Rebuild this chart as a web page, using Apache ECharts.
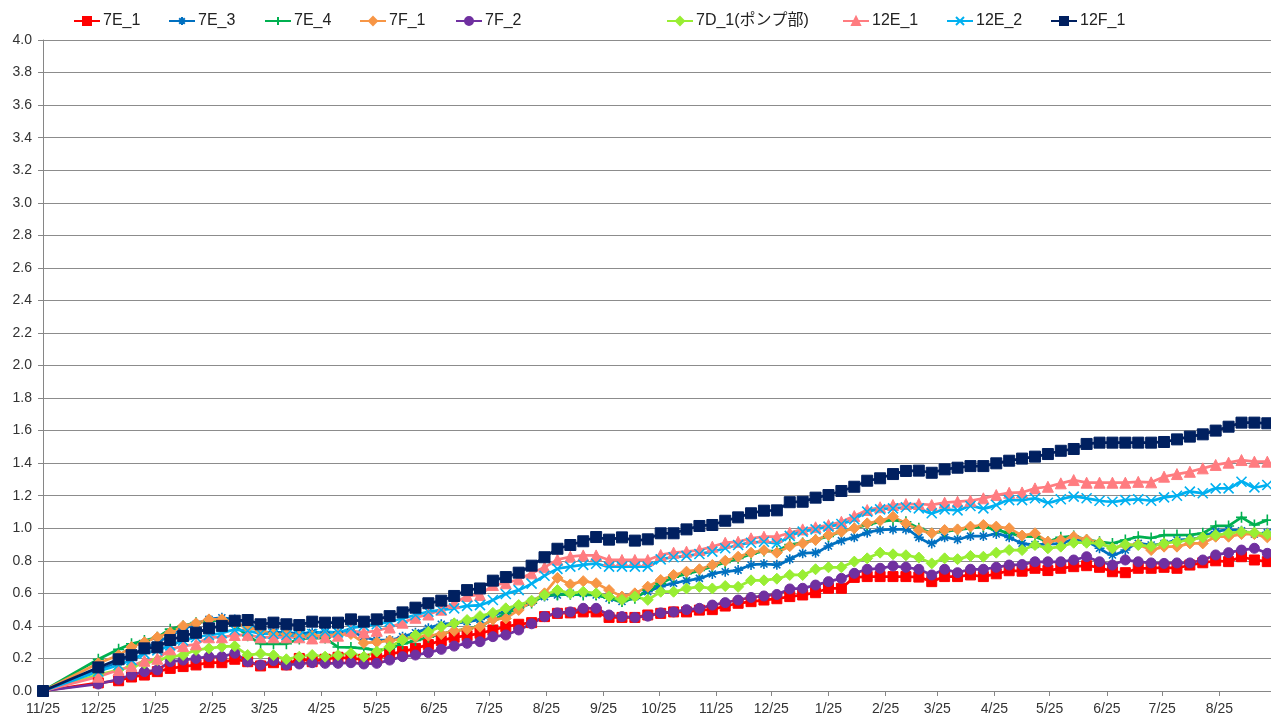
<!DOCTYPE html>
<html>
<head>
<meta charset="utf-8">
<title>chart</title>
<script src="https://cdn.jsdelivr.net/npm/echarts@6/dist/echarts.min.js"></script>
<style>
html,body{margin:0;padding:0;background:#fff;}
#main{width:1271px;height:720px;}
</style>
</head>
<body>
<div id="main"></div>
<script>
// 測定日 (11/25, 12/25, その後は毎週)
var firstDates = ['2012-11-25', '2012-12-25'];
var weeklyStart = '2013-01-05';
var weeklyCount = 90;

// x軸の目盛 (毎月25日)
var tickDates = ['2012-11-25','2012-12-25','2013-01-25','2013-02-25','2013-03-25','2013-04-25',
	'2013-05-25','2013-06-25','2013-07-25','2013-08-25','2013-09-25','2013-10-25','2013-11-25',
	'2013-12-25','2014-01-25','2014-02-25','2014-03-25','2014-04-25','2014-05-25','2014-06-25',
	'2014-07-25','2014-08-25'];
var xMin = '2012-11-25';
var xMax = '2014-09-22';

// y軸
var yMin = 0, yMax = 4.0, yStep = 0.2;

var names = ['7E_1','7E_3','7E_4','7F_1','7F_2','7D_1(ポンプ部)','12E_1','12E_2','12F_1'];

var data7E1 = [0, 0.05, 0.063, 0.086, 0.098, 0.119, 0.139, 0.15, 0.16, 0.174,
	0.174, 0.195, 0.18, 0.154, 0.174, 0.16, 0.2, 0.18, 0.195, 0.207,
	0.2, 0.195, 0.2, 0.227, 0.242, 0.262, 0.285, 0.31, 0.33, 0.34,
	0.354, 0.375, 0.395, 0.41, 0.42, 0.457, 0.477, 0.48, 0.486, 0.486,
	0.452, 0.452, 0.452, 0.467, 0.477, 0.486, 0.486, 0.497, 0.50, 0.522,
	0.539, 0.549, 0.559, 0.567, 0.58, 0.59, 0.604, 0.631, 0.631, 0.698,
	0.703, 0.703, 0.703, 0.703, 0.70, 0.672, 0.703, 0.703, 0.713, 0.703,
	0.72, 0.739, 0.736, 0.754, 0.74, 0.754, 0.764, 0.77, 0.76, 0.733,
	0.727, 0.754, 0.754, 0.76, 0.754, 0.774, 0.788, 0.80, 0.795, 0.825,
	0.805, 0.795];
var data7E3 = [0, 0.13, 0.18, 0.22, 0.26, 0.30, 0.34, 0.38, 0.41, 0.44,
	0.45, 0.44, 0.42, 0.37, 0.36, 0.36, 0.35, 0.36, 0.36, 0.36,
	0.36, 0.334, 0.313, 0.313, 0.334, 0.358, 0.385, 0.41, 0.416, 0.426,
	0.44, 0.467, 0.487, 0.518, 0.549, 0.58, 0.59, 0.60, 0.60, 0.59,
	0.57, 0.55, 0.58, 0.61, 0.641, 0.662, 0.678, 0.692, 0.719, 0.733,
	0.743, 0.774, 0.78, 0.775, 0.81, 0.846, 0.85, 0.891, 0.924, 0.944,
	0.973, 0.989, 0.993, 0.993, 0.944, 0.907, 0.944, 0.932, 0.952, 0.952,
	0.965, 0.944, 0.907, 0.9, 0.903, 0.907, 0.928, 0.917, 0.877, 0.836,
	0.866, 0.907, 0.897, 0.907, 0.928, 0.932, 0.948, 0.979, 0.99, 0.985,
	0.965, 0.973];
var data7E4 = [0, 0.195, 0.256, 0.29, 0.31, 0.33, 0.38, 0.40, 0.42, 0.43,
	0.435, 0.40, 0.34, 0.29, 0.29, 0.29, 0.32, 0.325, 0.325, 0.27,
	0.268, 0.262, 0.25, 0.26, 0.29, 0.31, 0.33, 0.35, 0.37, 0.38,
	0.40, 0.436, 0.477, 0.508, 0.54, 0.59, 0.59, 0.594, 0.59, 0.59,
	0.57, 0.55, 0.57, 0.62, 0.66, 0.70, 0.72, 0.74, 0.765, 0.79,
	0.815, 0.84, 0.86, 0.86, 0.9, 0.91, 0.93, 0.95, 0.98, 1.0,
	1.02, 1.04, 1.05, 1.04, 1.0, 0.97, 0.98, 0.99, 1.0, 1.01,
	0.99, 0.97, 0.95, 0.948, 0.917, 0.944, 0.952, 0.93, 0.917, 0.907,
	0.928, 0.948, 0.94, 0.958, 0.958, 0.96, 0.969, 1.014, 1.014, 1.067,
	1.02, 1.05];
var data7F1 = [0, 0.17, 0.22, 0.27, 0.30, 0.33, 0.36, 0.40, 0.416, 0.44,
	0.44, 0.42, 0.39, 0.37, 0.35, 0.35, 0.34, 0.34, 0.34, 0.345,
	0.35, 0.295, 0.30, 0.31, 0.32, 0.33, 0.34, 0.35, 0.37, 0.38,
	0.395, 0.44, 0.446, 0.498, 0.549, 0.60, 0.695, 0.655, 0.675, 0.662,
	0.62, 0.58, 0.60, 0.641, 0.682, 0.713, 0.733, 0.748, 0.774, 0.80,
	0.825, 0.85, 0.865, 0.85, 0.89, 0.907, 0.928, 0.958, 0.979, 1.0,
	1.03, 1.046, 1.071, 1.03, 0.989, 0.969, 0.989, 0.993, 1.01, 1.02,
	1.01, 1.0, 0.955, 0.969, 0.917, 0.928, 0.948, 0.93, 0.91, 0.877,
	0.897, 0.9, 0.866, 0.887, 0.887, 0.907, 0.907, 0.948, 0.948, 0.964,
	0.964, 0.944];
var data7F2 = [0, 0.043, 0.072, 0.098, 0.119, 0.129, 0.18, 0.19, 0.2, 0.211,
	0.211, 0.232, 0.18, 0.16, 0.186, 0.16, 0.166, 0.174, 0.17, 0.17,
	0.174, 0.166, 0.17, 0.19, 0.211, 0.221, 0.236, 0.256, 0.276, 0.293,
	0.303, 0.334, 0.344, 0.375, 0.413, 0.457, 0.48, 0.486, 0.508, 0.508,
	0.467, 0.457, 0.452, 0.46, 0.48, 0.486, 0.50, 0.508, 0.528, 0.543,
	0.559, 0.575, 0.584, 0.593, 0.627, 0.631, 0.651, 0.672, 0.692, 0.723,
	0.748, 0.754, 0.768, 0.76, 0.748, 0.713, 0.748, 0.727, 0.748, 0.748,
	0.76, 0.774, 0.777, 0.794, 0.794, 0.794, 0.805, 0.825, 0.794, 0.774,
	0.805, 0.794, 0.787, 0.784, 0.787, 0.787, 0.805, 0.836, 0.85, 0.866,
	0.877, 0.846];
var data7D1 = [0, 0.10, 0.13, 0.15, 0.17, 0.19, 0.21, 0.221, 0.252, 0.262,
	0.272, 0.276, 0.221, 0.23, 0.22, 0.195, 0.211, 0.221, 0.211, 0.22,
	0.232, 0.211, 0.242, 0.272, 0.313, 0.344, 0.364, 0.395, 0.416, 0.436,
	0.46, 0.48, 0.508, 0.528, 0.555, 0.59, 0.62, 0.60, 0.61, 0.60,
	0.58, 0.56, 0.58, 0.56, 0.61, 0.61, 0.63, 0.64, 0.63, 0.645,
	0.64, 0.68, 0.68, 0.69, 0.713, 0.713, 0.748, 0.76, 0.76, 0.795,
	0.815, 0.85, 0.84, 0.834, 0.82, 0.784, 0.815, 0.81, 0.83, 0.825,
	0.85, 0.866, 0.866, 0.897, 0.877, 0.887, 0.911, 0.911, 0.907, 0.877,
	0.9, 0.897, 0.89, 0.907, 0.917, 0.928, 0.944, 0.958, 0.969, 0.979,
	0.973, 0.964];
var data12E1 = [0, 0.088, 0.129, 0.154, 0.186, 0.198, 0.256, 0.276, 0.287, 0.33,
	0.33, 0.344, 0.345, 0.33, 0.33, 0.33, 0.33, 0.323, 0.33, 0.34,
	0.37, 0.36, 0.37, 0.39, 0.42, 0.45, 0.47, 0.50, 0.54, 0.584,
	0.59, 0.651, 0.662, 0.686, 0.723, 0.76, 0.807, 0.825, 0.833, 0.833,
	0.805, 0.805, 0.805, 0.805, 0.836, 0.85, 0.856, 0.866, 0.887, 0.911,
	0.917, 0.938, 0.948, 0.948, 0.972, 0.993, 1.006, 1.02, 1.04, 1.075,
	1.112, 1.129, 1.143, 1.149, 1.149, 1.143, 1.157, 1.163, 1.169, 1.184,
	1.204, 1.218, 1.22, 1.245, 1.255, 1.276, 1.296, 1.28, 1.28, 1.28,
	1.28, 1.285, 1.282, 1.317, 1.333, 1.347, 1.368, 1.389, 1.403, 1.419,
	1.409, 1.409];
var data12E2 = [0, 0.12, 0.16, 0.19, 0.23, 0.25, 0.28, 0.31, 0.33, 0.344,
	0.356, 0.375, 0.37, 0.354, 0.35, 0.344, 0.34, 0.35, 0.365, 0.36,
	0.385, 0.40, 0.41, 0.426, 0.446, 0.467, 0.487, 0.498, 0.508, 0.523,
	0.528, 0.559, 0.596, 0.62, 0.66, 0.708, 0.75, 0.764, 0.775, 0.782,
	0.764, 0.764, 0.764, 0.764, 0.809, 0.822, 0.83, 0.842, 0.856, 0.877,
	0.897, 0.911, 0.917, 0.907, 0.953, 0.979, 0.993, 1.01, 1.026, 1.055,
	1.102, 1.116, 1.122, 1.129, 1.122, 1.092, 1.116, 1.11, 1.137, 1.122,
	1.143, 1.173, 1.173, 1.184, 1.157, 1.178, 1.194, 1.184, 1.169, 1.163,
	1.173, 1.178, 1.169, 1.19, 1.2, 1.225, 1.215, 1.245, 1.245, 1.286,
	1.251, 1.266];
var data12F1 = [0, 0.145, 0.195, 0.22, 0.262, 0.268, 0.313, 0.338, 0.358, 0.385,
	0.40, 0.432, 0.436, 0.41, 0.42, 0.41, 0.405, 0.426, 0.42, 0.42,
	0.44, 0.426, 0.44, 0.46, 0.483, 0.512, 0.539, 0.555, 0.584, 0.62,
	0.63, 0.678, 0.70, 0.727, 0.77, 0.822, 0.874, 0.897, 0.92, 0.946,
	0.93, 0.944, 0.924, 0.932, 0.969, 0.969, 0.993, 1.014, 1.02, 1.046,
	1.067, 1.092, 1.108, 1.11, 1.16, 1.163, 1.188, 1.204, 1.229, 1.255,
	1.292, 1.307, 1.333, 1.352, 1.354, 1.341, 1.362, 1.372, 1.382, 1.382,
	1.399, 1.415, 1.428, 1.44, 1.456, 1.476, 1.487, 1.518, 1.526, 1.526,
	1.526, 1.526, 1.526, 1.53, 1.546, 1.563, 1.577, 1.60, 1.624, 1.649,
	1.649, 1.645];

var allData = [data7E1, data7E3, data7E4, data7F1, data7F2, data7D1, data12E1, data12E2, data12F1];

// 見た目
var colors = ['#FF0000','#0070C0','#00B050','#F79646','#7030A0','#99EE33','#FF7C80','#00B0F0','#002060'];
var symAsterisk = 'path://M5,0L5,10M0,5L10,5M1.5,1.5L8.5,8.5M8.5,1.5L1.5,8.5';
var symPlus = 'path://M5,0L5,10M0,5L10,5';
var symCross = 'path://M0,0L10,10M10,0L0,10';
var symbols = ['rect', symAsterisk, symPlus, 'diamond', 'circle', 'diamond', 'triangle', symCross, 'rect'];
var symbolSizes = [10, 10, 11, 11, 10, 11, 11, 10, 11];
var strokeOnly = [false, true, true, false, false, false, false, true, false];
var smoothLine = [false, true, false, false, false, false, false, true, false];
var legendLeft = [73, 168, 264, 359, 455, 666, 842, 946, 1050];

function toTime(s) {
	var p = s.split('-');
	return new Date(+p[0], +p[1] - 1, +p[2]).getTime();
}

// x座標 (日付 → ミリ秒)
var xTimes = [];
for (var i = 0; i < firstDates.length; i++) {
	xTimes.push(toTime(firstDates[i]));
}
var ws = weeklyStart.split('-');
for (var w = 0; w < weeklyCount; w++) {
	xTimes.push(new Date(+ws[0], +ws[1] - 1, +ws[2] + 7 * w).getTime());
}
var tickTimes = tickDates.map(toTime);

var fontFamily = '"Liberation Sans", "Noto Sans CJK JP", sans-serif';

var chart = echarts.init(document.getElementById('main'), null, {renderer: 'canvas'});

var series = [];
var legends = [];
for (var s = 0; s < names.length; s++) {
	var pts = [];
	for (var j = 0; j < allData[s].length; j++) {
		pts.push([xTimes[j], allData[s][j]]);
	}
	series.push({
		name: names[s],
		type: 'line',
		data: pts,
		symbol: symbols[s],
		symbolSize: symbolSizes[s],
		smooth: smoothLine[s] ? 0.3 : false,
		animation: false,
		lineStyle: {color: colors[s], width: 2.75},
		itemStyle: strokeOnly[s]
			? {color: 'rgba(0,0,0,0)', borderColor: colors[s], borderWidth: 1.6}
			: {color: colors[s], borderColor: colors[s], borderWidth: 1}
	});
	legends.push({
		left: legendLeft[s],
		top: 13,
		orient: 'horizontal',
		itemWidth: 26,
		itemHeight: 10,
		itemGap: 0,
		padding: 0,
		selectedMode: false,
		data: [names[s]],
		textStyle: {fontFamily: fontFamily, fontSize: 16, color: '#222', padding: [0, 0, 0, -2]}
	});
}

var option = {
	backgroundColor: '#fff',
	animation: false,
	legend: legends,
	grid: {left: 43, right: 0, top: 40, bottom: 29, containLabel: false},
	xAxis: {
		type: 'value',
		min: toTime(xMin),
		max: toTime(xMax),
		axisLine: {show: true, lineStyle: {color: '#868686', width: 1}},
		axisTick: {show: true, inside: false, length: 5, customValues: tickTimes, lineStyle: {color: '#868686'}},
		splitLine: {show: false},
		axisLabel: {
			customValues: tickTimes,
			margin: 11,
			color: '#333',
			fontSize: 14,
			fontFamily: fontFamily,
			hideOverlap: false,
			formatter: function (v) {
				var d = new Date(v);
				return (d.getMonth() + 1) + '/' + d.getDate();
			}
		}
	},
	yAxis: {
		type: 'value',
		min: yMin,
		max: yMax,
		interval: yStep,
		axisLine: {show: true, lineStyle: {color: '#868686', width: 1}},
		axisTick: {show: true, inside: false, length: 5, lineStyle: {color: '#868686'}},
		splitLine: {show: true, lineStyle: {color: '#8c8c8c', width: 1}},
		axisLabel: {
			margin: 11,
			color: '#333',
			fontSize: 14,
			fontFamily: fontFamily,
			formatter: function (v) { return v.toFixed(1); }
		}
	},
	series: series
};
chart.setOption(option);
</script>
</body>
</html>
